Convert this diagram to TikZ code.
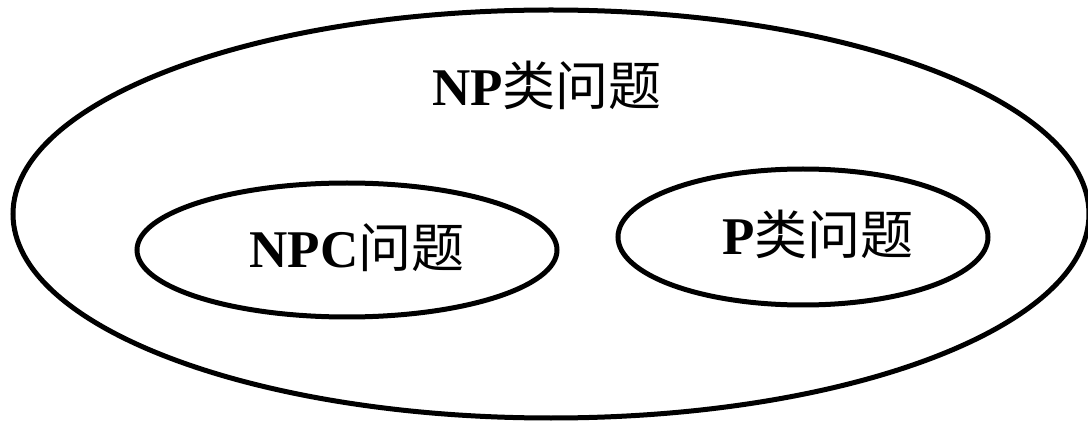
\documentclass[tikz,border=0pt]{standalone}
\usepackage{fontspec}
\setmainfont{Liberation Serif}
\newfontfamily\cjk{Noto Sans CJK SC}
\usetikzlibrary{shapes.geometric}
\tikzset{
  setoval/.style={ellipse, draw=black, line width=5pt, inner sep=0pt},
  setlabel/.style={anchor=base, inner sep=0pt, font=\fontsize{53}{60}\selectfont}
}
\begin{document}
\begin{tikzpicture}[x=1pt,y=-1pt]
\useasboundingbox (0,0) rectangle (1088,422);
\node[setoval, minimum width=1076pt, minimum height=408pt] (np) at (551,214) {};
\node[setoval, minimum width=420pt, minimum height=134pt] (npc) at (347,250) {};
\node[setoval, minimum width=370pt, minimum height=136pt] (p) at (803,237) {};
\node[setlabel] (nplabel) at (547,106) {\textbf{NP}{\cjk 类问题}};
\node[setlabel] (npclabel) at (357,268) {\textbf{NPC}{\cjk 问题}};
\node[setlabel] (plabel) at (818,255) {\textbf{P}{\cjk 类问题}};
\end{tikzpicture}
\end{document}
